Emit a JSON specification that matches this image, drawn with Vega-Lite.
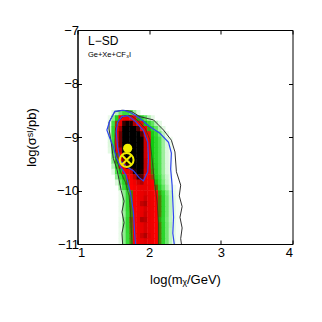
{
"$schema":"https://vega.github.io/schema/vega-lite/v6.json",
"width":215,"height":214,
"autosize":{"type":"none"},
"padding":{"left":77.5,"top":30,"right":29.5,"bottom":78},
"background":"white",
"config":{"view":{"stroke":"black","strokeWidth":1},"axis":{"domainColor":"black","tickColor":"black","labelColor":"black","titleColor":"black","labelFont":"Liberation Sans","titleFont":"Liberation Sans","labelFontSize":13,"titleFontSize":13,"titleFontWeight":"normal","grid":false,"tickSize":-4,"tickWidth":1,"domainWidth":1}},
"datasets":{
"grid":[
{"x":1.5,"y":-8.55,"d":0.08},{"x":1.55,"y":-8.55,"d":0.15},{"x":1.6,"y":-8.55,"d":0.25},{"x":1.65,"y":-8.55,"d":0.32},{"x":1.7,"y":-8.55,"d":0.32},{"x":1.75,"y":-8.55,"d":0.28},{"x":1.8,"y":-8.55,"d":0.18},{"x":1.85,"y":-8.55,"d":0.1},
{"x":1.45,"y":-8.65,"d":0.06},{"x":1.5,"y":-8.65,"d":0.2},{"x":1.55,"y":-8.65,"d":0.4},{"x":1.6,"y":-8.65,"d":0.58},{"x":1.65,"y":-8.65,"d":0.7},{"x":1.7,"y":-8.65,"d":0.72},{"x":1.75,"y":-8.65,"d":0.7},{"x":1.8,"y":-8.65,"d":0.6},{"x":1.85,"y":-8.65,"d":0.46},{"x":1.9,"y":-8.65,"d":0.36},{"x":1.95,"y":-8.65,"d":0.26},{"x":2.0,"y":-8.65,"d":0.16},{"x":2.05,"y":-8.65,"d":0.08},
{"x":1.45,"y":-8.75,"d":0.1},{"x":1.5,"y":-8.75,"d":0.3},{"x":1.55,"y":-8.75,"d":0.52},{"x":1.6,"y":-8.75,"d":0.8},{"x":1.65,"y":-8.75,"d":0.94},{"x":1.7,"y":-8.75,"d":0.97},{"x":1.75,"y":-8.75,"d":0.95},{"x":1.8,"y":-8.75,"d":0.88},{"x":1.85,"y":-8.75,"d":0.7},{"x":1.9,"y":-8.75,"d":0.55},{"x":1.95,"y":-8.75,"d":0.42},{"x":2.0,"y":-8.75,"d":0.34},{"x":2.05,"y":-8.75,"d":0.26},{"x":2.1,"y":-8.75,"d":0.16},{"x":2.15,"y":-8.75,"d":0.08},
{"x":1.45,"y":-8.85,"d":0.12},{"x":1.5,"y":-8.85,"d":0.35},{"x":1.55,"y":-8.85,"d":0.6},{"x":1.6,"y":-8.85,"d":0.9},{"x":1.65,"y":-8.85,"d":1},{"x":1.7,"y":-8.85,"d":1},{"x":1.75,"y":-8.85,"d":1},{"x":1.8,"y":-8.85,"d":1},{"x":1.85,"y":-8.85,"d":0.93},{"x":1.9,"y":-8.85,"d":0.78},{"x":1.95,"y":-8.85,"d":0.6},{"x":2.0,"y":-8.85,"d":0.46},{"x":2.05,"y":-8.85,"d":0.36},{"x":2.1,"y":-8.85,"d":0.26},{"x":2.15,"y":-8.85,"d":0.16},{"x":2.2,"y":-8.85,"d":0.08},
{"x":1.45,"y":-8.95,"d":0.12},{"x":1.5,"y":-8.95,"d":0.35},{"x":1.55,"y":-8.95,"d":0.62},{"x":1.6,"y":-8.95,"d":0.92},{"x":1.65,"y":-8.95,"d":1},{"x":1.7,"y":-8.95,"d":1},{"x":1.75,"y":-8.95,"d":1},{"x":1.8,"y":-8.95,"d":1},{"x":1.85,"y":-8.95,"d":0.98},{"x":1.9,"y":-8.95,"d":0.93},{"x":1.95,"y":-8.95,"d":0.75},{"x":2.0,"y":-8.95,"d":0.55},{"x":2.05,"y":-8.95,"d":0.42},{"x":2.1,"y":-8.95,"d":0.34},{"x":2.15,"y":-8.95,"d":0.24},{"x":2.2,"y":-8.95,"d":0.14},{"x":2.25,"y":-8.95,"d":0.07},
{"x":1.45,"y":-9.05,"d":0.1},{"x":1.5,"y":-9.05,"d":0.33},{"x":1.55,"y":-9.05,"d":0.6},{"x":1.6,"y":-9.05,"d":0.92},{"x":1.65,"y":-9.05,"d":1},{"x":1.7,"y":-9.05,"d":1},{"x":1.75,"y":-9.05,"d":1},{"x":1.8,"y":-9.05,"d":1},{"x":1.85,"y":-9.05,"d":1},{"x":1.9,"y":-9.05,"d":0.97},{"x":1.95,"y":-9.05,"d":0.85},{"x":2.0,"y":-9.05,"d":0.6},{"x":2.05,"y":-9.05,"d":0.44},{"x":2.1,"y":-9.05,"d":0.36},{"x":2.15,"y":-9.05,"d":0.28},{"x":2.2,"y":-9.05,"d":0.18},{"x":2.25,"y":-9.05,"d":0.1},{"x":2.3,"y":-9.05,"d":0.05},
{"x":1.45,"y":-9.15,"d":0.1},{"x":1.5,"y":-9.15,"d":0.33},{"x":1.55,"y":-9.15,"d":0.6},{"x":1.6,"y":-9.15,"d":0.92},{"x":1.65,"y":-9.15,"d":1},{"x":1.7,"y":-9.15,"d":1},{"x":1.75,"y":-9.15,"d":1},{"x":1.8,"y":-9.15,"d":1},{"x":1.85,"y":-9.15,"d":1},{"x":1.9,"y":-9.15,"d":0.97},{"x":1.95,"y":-9.15,"d":0.85},{"x":2.0,"y":-9.15,"d":0.6},{"x":2.05,"y":-9.15,"d":0.44},{"x":2.1,"y":-9.15,"d":0.36},{"x":2.15,"y":-9.15,"d":0.28},{"x":2.2,"y":-9.15,"d":0.18},{"x":2.25,"y":-9.15,"d":0.1},{"x":2.3,"y":-9.15,"d":0.05},
{"x":1.45,"y":-9.25,"d":0.08},{"x":1.5,"y":-9.25,"d":0.3},{"x":1.55,"y":-9.25,"d":0.56},{"x":1.6,"y":-9.25,"d":0.88},{"x":1.65,"y":-9.25,"d":0.98},{"x":1.7,"y":-9.25,"d":1},{"x":1.75,"y":-9.25,"d":1},{"x":1.8,"y":-9.25,"d":1},{"x":1.85,"y":-9.25,"d":1},{"x":1.9,"y":-9.25,"d":0.97},{"x":1.95,"y":-9.25,"d":0.85},{"x":2.0,"y":-9.25,"d":0.6},{"x":2.05,"y":-9.25,"d":0.44},{"x":2.1,"y":-9.25,"d":0.36},{"x":2.15,"y":-9.25,"d":0.28},{"x":2.2,"y":-9.25,"d":0.18},{"x":2.25,"y":-9.25,"d":0.1},{"x":2.3,"y":-9.25,"d":0.05},
{"x":1.5,"y":-9.35,"d":0.25},{"x":1.55,"y":-9.35,"d":0.5},{"x":1.6,"y":-9.35,"d":0.8},{"x":1.65,"y":-9.35,"d":0.95},{"x":1.7,"y":-9.35,"d":1},{"x":1.75,"y":-9.35,"d":1},{"x":1.8,"y":-9.35,"d":1},{"x":1.85,"y":-9.35,"d":1},{"x":1.9,"y":-9.35,"d":0.97},{"x":1.95,"y":-9.35,"d":0.85},{"x":2.0,"y":-9.35,"d":0.6},{"x":2.05,"y":-9.35,"d":0.44},{"x":2.1,"y":-9.35,"d":0.36},{"x":2.15,"y":-9.35,"d":0.28},{"x":2.2,"y":-9.35,"d":0.18},{"x":2.25,"y":-9.35,"d":0.1},{"x":2.3,"y":-9.35,"d":0.05},
{"x":1.5,"y":-9.45,"d":0.22},{"x":1.55,"y":-9.45,"d":0.46},{"x":1.6,"y":-9.45,"d":0.74},{"x":1.65,"y":-9.45,"d":0.92},{"x":1.7,"y":-9.45,"d":0.99},{"x":1.75,"y":-9.45,"d":1},{"x":1.8,"y":-9.45,"d":1},{"x":1.85,"y":-9.45,"d":1},{"x":1.9,"y":-9.45,"d":0.97},{"x":1.95,"y":-9.45,"d":0.86},{"x":2.0,"y":-9.45,"d":0.61},{"x":2.05,"y":-9.45,"d":0.45},{"x":2.1,"y":-9.45,"d":0.36},{"x":2.15,"y":-9.45,"d":0.28},{"x":2.2,"y":-9.45,"d":0.18},{"x":2.25,"y":-9.45,"d":0.1},{"x":2.3,"y":-9.45,"d":0.05},
{"x":1.5,"y":-9.55,"d":0.15},{"x":1.55,"y":-9.55,"d":0.38},{"x":1.6,"y":-9.55,"d":0.6},{"x":1.65,"y":-9.55,"d":0.8},{"x":1.7,"y":-9.55,"d":0.94},{"x":1.75,"y":-9.55,"d":0.98},{"x":1.8,"y":-9.55,"d":1},{"x":1.85,"y":-9.55,"d":1},{"x":1.9,"y":-9.55,"d":0.97},{"x":1.95,"y":-9.55,"d":0.86},{"x":2.0,"y":-9.55,"d":0.62},{"x":2.05,"y":-9.55,"d":0.46},{"x":2.1,"y":-9.55,"d":0.37},{"x":2.15,"y":-9.55,"d":0.28},{"x":2.2,"y":-9.55,"d":0.18},{"x":2.25,"y":-9.55,"d":0.1},{"x":2.3,"y":-9.55,"d":0.05},
{"x":1.5,"y":-9.65,"d":0.08},{"x":1.55,"y":-9.65,"d":0.28},{"x":1.6,"y":-9.65,"d":0.42},{"x":1.65,"y":-9.65,"d":0.58},{"x":1.7,"y":-9.65,"d":0.72},{"x":1.75,"y":-9.65,"d":0.85},{"x":1.8,"y":-9.65,"d":0.95},{"x":1.85,"y":-9.65,"d":0.98},{"x":1.9,"y":-9.65,"d":0.96},{"x":1.95,"y":-9.65,"d":0.85},{"x":2.0,"y":-9.65,"d":0.64},{"x":2.05,"y":-9.65,"d":0.48},{"x":2.1,"y":-9.65,"d":0.38},{"x":2.15,"y":-9.65,"d":0.28},{"x":2.2,"y":-9.65,"d":0.18},{"x":2.25,"y":-9.65,"d":0.1},{"x":2.3,"y":-9.65,"d":0.05},
{"x":1.55,"y":-9.75,"d":0.2},{"x":1.6,"y":-9.75,"d":0.32},{"x":1.65,"y":-9.75,"d":0.45},{"x":1.7,"y":-9.75,"d":0.58},{"x":1.75,"y":-9.75,"d":0.7},{"x":1.8,"y":-9.75,"d":0.86},{"x":1.85,"y":-9.75,"d":0.94},{"x":1.9,"y":-9.75,"d":0.93},{"x":1.95,"y":-9.75,"d":0.82},{"x":2.0,"y":-9.75,"d":0.66},{"x":2.05,"y":-9.75,"d":0.52},{"x":2.1,"y":-9.75,"d":0.4},{"x":2.15,"y":-9.75,"d":0.3},{"x":2.2,"y":-9.75,"d":0.2},{"x":2.25,"y":-9.75,"d":0.12},{"x":2.3,"y":-9.75,"d":0.06},
{"x":1.55,"y":-9.85,"d":0.1},{"x":1.6,"y":-9.85,"d":0.25},{"x":1.65,"y":-9.85,"d":0.38},{"x":1.7,"y":-9.85,"d":0.5},{"x":1.75,"y":-9.85,"d":0.62},{"x":1.8,"y":-9.85,"d":0.74},{"x":1.85,"y":-9.85,"d":0.85},{"x":1.9,"y":-9.85,"d":0.88},{"x":1.95,"y":-9.85,"d":0.82},{"x":2.0,"y":-9.85,"d":0.7},{"x":2.05,"y":-9.85,"d":0.58},{"x":2.1,"y":-9.85,"d":0.45},{"x":2.15,"y":-9.85,"d":0.33},{"x":2.2,"y":-9.85,"d":0.22},{"x":2.25,"y":-9.85,"d":0.13},{"x":2.3,"y":-9.85,"d":0.07},
{"x":1.6,"y":-9.95,"d":0.18},{"x":1.65,"y":-9.95,"d":0.32},{"x":1.7,"y":-9.95,"d":0.45},{"x":1.75,"y":-9.95,"d":0.56},{"x":1.8,"y":-9.95,"d":0.66},{"x":1.85,"y":-9.95,"d":0.76},{"x":1.9,"y":-9.95,"d":0.82},{"x":1.95,"y":-9.95,"d":0.82},{"x":2.0,"y":-9.95,"d":0.74},{"x":2.05,"y":-9.95,"d":0.62},{"x":2.1,"y":-9.95,"d":0.5},{"x":2.15,"y":-9.95,"d":0.38},{"x":2.2,"y":-9.95,"d":0.26},{"x":2.25,"y":-9.95,"d":0.16},{"x":2.3,"y":-9.95,"d":0.09},{"x":2.35,"y":-9.95,"d":0.04},
{"x":1.6,"y":-10.05,"d":0.06},{"x":1.65,"y":-10.05,"d":0.2},{"x":1.7,"y":-10.05,"d":0.34},{"x":1.75,"y":-10.05,"d":0.48},{"x":1.8,"y":-10.05,"d":0.62},{"x":1.85,"y":-10.05,"d":0.72},{"x":1.9,"y":-10.05,"d":0.8},{"x":1.95,"y":-10.05,"d":0.83},{"x":2.0,"y":-10.05,"d":0.79},{"x":2.05,"y":-10.05,"d":0.7},{"x":2.1,"y":-10.05,"d":0.58},{"x":2.15,"y":-10.05,"d":0.46},{"x":2.2,"y":-10.05,"d":0.34},{"x":2.25,"y":-10.05,"d":0.22},{"x":2.3,"y":-10.05,"d":0.13},{"x":2.35,"y":-10.05,"d":0.07},{"x":2.4,"y":-10.05,"d":0.03},
{"x":1.6,"y":-10.15,"d":0.06},{"x":1.65,"y":-10.15,"d":0.2},{"x":1.7,"y":-10.15,"d":0.34},{"x":1.75,"y":-10.15,"d":0.48},{"x":1.8,"y":-10.15,"d":0.62},{"x":1.85,"y":-10.15,"d":0.73},{"x":1.9,"y":-10.15,"d":0.82},{"x":1.95,"y":-10.15,"d":0.85},{"x":2.0,"y":-10.15,"d":0.8},{"x":2.05,"y":-10.15,"d":0.72},{"x":2.1,"y":-10.15,"d":0.6},{"x":2.15,"y":-10.15,"d":0.48},{"x":2.2,"y":-10.15,"d":0.36},{"x":2.25,"y":-10.15,"d":0.24},{"x":2.3,"y":-10.15,"d":0.14},{"x":2.35,"y":-10.15,"d":0.08},{"x":2.4,"y":-10.15,"d":0.03},
{"x":1.6,"y":-10.25,"d":0.06},{"x":1.65,"y":-10.25,"d":0.2},{"x":1.7,"y":-10.25,"d":0.34},{"x":1.75,"y":-10.25,"d":0.48},{"x":1.8,"y":-10.25,"d":0.64},{"x":1.85,"y":-10.25,"d":0.76},{"x":1.9,"y":-10.25,"d":0.86},{"x":1.95,"y":-10.25,"d":0.88},{"x":2.0,"y":-10.25,"d":0.82},{"x":2.05,"y":-10.25,"d":0.72},{"x":2.1,"y":-10.25,"d":0.6},{"x":2.15,"y":-10.25,"d":0.48},{"x":2.2,"y":-10.25,"d":0.36},{"x":2.25,"y":-10.25,"d":0.24},{"x":2.3,"y":-10.25,"d":0.14},{"x":2.35,"y":-10.25,"d":0.08},{"x":2.4,"y":-10.25,"d":0.03},
{"x":1.6,"y":-10.35,"d":0.06},{"x":1.65,"y":-10.35,"d":0.2},{"x":1.7,"y":-10.35,"d":0.34},{"x":1.75,"y":-10.35,"d":0.48},{"x":1.8,"y":-10.35,"d":0.62},{"x":1.85,"y":-10.35,"d":0.72},{"x":1.9,"y":-10.35,"d":0.8},{"x":1.95,"y":-10.35,"d":0.84},{"x":2.0,"y":-10.35,"d":0.8},{"x":2.05,"y":-10.35,"d":0.72},{"x":2.1,"y":-10.35,"d":0.6},{"x":2.15,"y":-10.35,"d":0.48},{"x":2.2,"y":-10.35,"d":0.36},{"x":2.25,"y":-10.35,"d":0.24},{"x":2.3,"y":-10.35,"d":0.14},{"x":2.35,"y":-10.35,"d":0.08},{"x":2.4,"y":-10.35,"d":0.03},
{"x":1.6,"y":-10.45,"d":0.05},{"x":1.65,"y":-10.45,"d":0.18},{"x":1.7,"y":-10.45,"d":0.33},{"x":1.75,"y":-10.45,"d":0.47},{"x":1.8,"y":-10.45,"d":0.62},{"x":1.85,"y":-10.45,"d":0.74},{"x":1.9,"y":-10.45,"d":0.82},{"x":1.95,"y":-10.45,"d":0.85},{"x":2.0,"y":-10.45,"d":0.81},{"x":2.05,"y":-10.45,"d":0.72},{"x":2.1,"y":-10.45,"d":0.6},{"x":2.15,"y":-10.45,"d":0.48},{"x":2.2,"y":-10.45,"d":0.36},{"x":2.25,"y":-10.45,"d":0.24},{"x":2.3,"y":-10.45,"d":0.14},{"x":2.35,"y":-10.45,"d":0.08},{"x":2.4,"y":-10.45,"d":0.03},
{"x":1.6,"y":-10.55,"d":0.06},{"x":1.65,"y":-10.55,"d":0.2},{"x":1.7,"y":-10.55,"d":0.35},{"x":1.75,"y":-10.55,"d":0.5},{"x":1.8,"y":-10.55,"d":0.66},{"x":1.85,"y":-10.55,"d":0.78},{"x":1.9,"y":-10.55,"d":0.88},{"x":1.95,"y":-10.55,"d":0.87},{"x":2.0,"y":-10.55,"d":0.8},{"x":2.05,"y":-10.55,"d":0.7},{"x":2.1,"y":-10.55,"d":0.58},{"x":2.15,"y":-10.55,"d":0.46},{"x":2.2,"y":-10.55,"d":0.35},{"x":2.25,"y":-10.55,"d":0.23},{"x":2.3,"y":-10.55,"d":0.14},{"x":2.35,"y":-10.55,"d":0.08},{"x":2.4,"y":-10.55,"d":0.03},
{"x":1.6,"y":-10.65,"d":0.07},{"x":1.65,"y":-10.65,"d":0.21},{"x":1.7,"y":-10.65,"d":0.35},{"x":1.75,"y":-10.65,"d":0.49},{"x":1.8,"y":-10.65,"d":0.63},{"x":1.85,"y":-10.65,"d":0.73},{"x":1.9,"y":-10.65,"d":0.81},{"x":1.95,"y":-10.65,"d":0.84},{"x":2.0,"y":-10.65,"d":0.8},{"x":2.05,"y":-10.65,"d":0.72},{"x":2.1,"y":-10.65,"d":0.6},{"x":2.15,"y":-10.65,"d":0.48},{"x":2.2,"y":-10.65,"d":0.36},{"x":2.25,"y":-10.65,"d":0.24},{"x":2.3,"y":-10.65,"d":0.15},{"x":2.35,"y":-10.65,"d":0.08},{"x":2.4,"y":-10.65,"d":0.03},
{"x":1.6,"y":-10.75,"d":0.06},{"x":1.65,"y":-10.75,"d":0.2},{"x":1.7,"y":-10.75,"d":0.34},{"x":1.75,"y":-10.75,"d":0.48},{"x":1.8,"y":-10.75,"d":0.62},{"x":1.85,"y":-10.75,"d":0.72},{"x":1.9,"y":-10.75,"d":0.8},{"x":1.95,"y":-10.75,"d":0.84},{"x":2.0,"y":-10.75,"d":0.81},{"x":2.05,"y":-10.75,"d":0.72},{"x":2.1,"y":-10.75,"d":0.6},{"x":2.15,"y":-10.75,"d":0.48},{"x":2.2,"y":-10.75,"d":0.36},{"x":2.25,"y":-10.75,"d":0.24},{"x":2.3,"y":-10.75,"d":0.14},{"x":2.35,"y":-10.75,"d":0.08},{"x":2.4,"y":-10.75,"d":0.03},
{"x":1.6,"y":-10.85,"d":0.06},{"x":1.65,"y":-10.85,"d":0.2},{"x":1.7,"y":-10.85,"d":0.33},{"x":1.75,"y":-10.85,"d":0.47},{"x":1.8,"y":-10.85,"d":0.62},{"x":1.85,"y":-10.85,"d":0.75},{"x":1.9,"y":-10.85,"d":0.85},{"x":1.95,"y":-10.85,"d":0.88},{"x":2.0,"y":-10.85,"d":0.83},{"x":2.05,"y":-10.85,"d":0.72},{"x":2.1,"y":-10.85,"d":0.6},{"x":2.15,"y":-10.85,"d":0.48},{"x":2.2,"y":-10.85,"d":0.36},{"x":2.25,"y":-10.85,"d":0.24},{"x":2.3,"y":-10.85,"d":0.14},{"x":2.35,"y":-10.85,"d":0.08},{"x":2.4,"y":-10.85,"d":0.03},
{"x":1.6,"y":-10.95,"d":0.06},{"x":1.65,"y":-10.95,"d":0.2},{"x":1.7,"y":-10.95,"d":0.33},{"x":1.75,"y":-10.95,"d":0.47},{"x":1.8,"y":-10.95,"d":0.61},{"x":1.85,"y":-10.95,"d":0.72},{"x":1.9,"y":-10.95,"d":0.8},{"x":1.95,"y":-10.95,"d":0.83},{"x":2.0,"y":-10.95,"d":0.8},{"x":2.05,"y":-10.95,"d":0.72},{"x":2.1,"y":-10.95,"d":0.6},{"x":2.15,"y":-10.95,"d":0.48},{"x":2.2,"y":-10.95,"d":0.36},{"x":2.25,"y":-10.95,"d":0.24},{"x":2.3,"y":-10.95,"d":0.14},{"x":2.35,"y":-10.95,"d":0.08},{"x":2.4,"y":-10.95,"d":0.03}
],
"contours":[
{"c":"k1","o":1,"x":1.63,"y":-11},{"c":"k1","o":2,"x":1.62,"y":-10.8},{"c":"k1","o":3,"x":1.65,"y":-10.6},{"c":"k1","o":4,"x":1.62,"y":-10.4},{"c":"k1","o":5,"x":1.65,"y":-10.2},{"c":"k1","o":6,"x":1.61,"y":-10.0},{"c":"k1","o":7,"x":1.58,"y":-9.8},{"c":"k1","o":8,"x":1.55,"y":-9.6},{"c":"k1","o":9,"x":1.5,"y":-9.4},{"c":"k1","o":10,"x":1.47,"y":-9.1},{"c":"k1","o":11,"x":1.44,"y":-8.85},{"c":"k1","o":12,"x":1.44,"y":-8.72},{"c":"k1","o":13,"x":1.52,"y":-8.53},{"c":"k1","o":14,"x":1.62,"y":-8.5},{"c":"k1","o":15,"x":1.75,"y":-8.52},{"c":"k1","o":16,"x":1.87,"y":-8.62},{"c":"k1","o":17,"x":2.06,"y":-8.68},{"c":"k1","o":18,"x":2.2,"y":-8.87},{"c":"k1","o":19,"x":2.31,"y":-9.06},{"c":"k1","o":20,"x":2.36,"y":-9.28},{"c":"k1","o":21,"x":2.38,"y":-9.65},{"c":"k1","o":22,"x":2.44,"y":-9.9},{"c":"k1","o":23,"x":2.42,"y":-10.1},{"c":"k1","o":24,"x":2.46,"y":-10.3},{"c":"k1","o":25,"x":2.43,"y":-10.5},{"c":"k1","o":26,"x":2.46,"y":-10.7},{"c":"k1","o":27,"x":2.44,"y":-10.9},{"c":"k1","o":28,"x":2.45,"y":-11},
{"c":"k2","o":1,"x":1.76,"y":-11},{"c":"k2","o":2,"x":1.75,"y":-10.7},{"c":"k2","o":3,"x":1.74,"y":-10.4},{"c":"k2","o":4,"x":1.72,"y":-10.1},{"c":"k2","o":5,"x":1.67,"y":-9.85},{"c":"k2","o":6,"x":1.6,"y":-9.65},{"c":"k2","o":7,"x":1.54,"y":-9.4},{"c":"k2","o":8,"x":1.52,"y":-9.1},{"c":"k2","o":9,"x":1.53,"y":-8.85},{"c":"k2","o":10,"x":1.58,"y":-8.68},{"c":"k2","o":11,"x":1.66,"y":-8.6},{"c":"k2","o":12,"x":1.75,"y":-8.6},{"c":"k2","o":13,"x":1.85,"y":-8.7},{"c":"k2","o":14,"x":1.95,"y":-8.85},{"c":"k2","o":15,"x":2.01,"y":-9.05},{"c":"k2","o":16,"x":2.04,"y":-9.4},{"c":"k2","o":17,"x":2.07,"y":-9.8},{"c":"k2","o":18,"x":2.11,"y":-10.2},{"c":"k2","o":19,"x":2.13,"y":-10.6},{"c":"k2","o":20,"x":2.13,"y":-11},
{"c":"b1","o":1,"x":1.81,"y":-11},{"c":"b1","o":2,"x":1.8,"y":-10.85},{"c":"b1","o":3,"x":1.78,"y":-10.4},{"c":"b1","o":4,"x":1.74,"y":-10.05},{"c":"b1","o":5,"x":1.68,"y":-9.72},{"c":"b1","o":6,"x":1.6,"y":-9.55},{"c":"b1","o":7,"x":1.54,"y":-9.38},{"c":"b1","o":8,"x":1.5,"y":-9.18},{"c":"b1","o":9,"x":1.45,"y":-9.02},{"c":"b1","o":10,"x":1.41,"y":-8.87},{"c":"b1","o":11,"x":1.45,"y":-8.7},{"c":"b1","o":12,"x":1.52,"y":-8.52},{"c":"b1","o":13,"x":1.65,"y":-8.5},{"c":"b1","o":14,"x":1.75,"y":-8.55},{"c":"b1","o":15,"x":1.87,"y":-8.65},{"c":"b1","o":16,"x":2.0,"y":-8.8},{"c":"b1","o":17,"x":2.15,"y":-8.93},{"c":"b1","o":18,"x":2.27,"y":-9.1},{"c":"b1","o":19,"x":2.31,"y":-9.3},{"c":"b1","o":20,"x":2.3,"y":-9.6},{"c":"b1","o":21,"x":2.32,"y":-9.9},{"c":"b1","o":22,"x":2.33,"y":-10.2},{"c":"b1","o":23,"x":2.34,"y":-10.5},{"c":"b1","o":24,"x":2.33,"y":-10.8},{"c":"b1","o":25,"x":2.35,"y":-11},
{"c":"b2","o":1,"x":1.56,"y":-8.72},{"c":"b2","o":2,"x":1.62,"y":-8.62},{"c":"b2","o":3,"x":1.7,"y":-8.6},{"c":"b2","o":4,"x":1.8,"y":-8.7},{"c":"b2","o":5,"x":1.92,"y":-8.88},{"c":"b2","o":6,"x":1.98,"y":-9.1},{"c":"b2","o":7,"x":1.99,"y":-9.4},{"c":"b2","o":8,"x":1.98,"y":-9.65},{"c":"b2","o":9,"x":1.92,"y":-9.82},{"c":"b2","o":10,"x":1.86,"y":-9.76},{"c":"b2","o":11,"x":1.78,"y":-9.63},{"c":"b2","o":12,"x":1.68,"y":-9.55},{"c":"b2","o":13,"x":1.6,"y":-9.45},{"c":"b2","o":14,"x":1.56,"y":-9.2},{"c":"b2","o":15,"x":1.54,"y":-8.9},{"c":"b2","o":16,"x":1.56,"y":-8.72}
],
"marks":[{"k":"dot","x":1.70,"y":-9.21},{"k":"cross","x":1.686,"y":-9.43}]
},
"layer":[
{"data":{"name":"grid"},"mark":{"type":"rect","width":4,"height":6,"clip":true},
 "encoding":{
  "x":{"field":"x","type":"quantitative","scale":{"domain":[1,4],"nice":false,"zero":false},"axis":{"values":[1,2,3,4],"title":"log(mᵪ/GeV)","labelPadding":6,"titlePadding":14}},
  "y":{"field":"y","type":"quantitative","scale":{"domain":[-11,-7],"nice":false,"zero":false},"axis":{"values":[-11,-10,-9,-8,-7],"title":"log(σˢᴵ/pb)","labelPadding":3,"titlePadding":18}},
  "color":{"field":"d","type":"quantitative","scale":{"type":"linear","interpolate":"rgb","domain":[0,0.1,0.3,0.44,0.5,0.56,0.82,0.9,0.95,0.98],"range":["#ffffff","#dcf8dc","#40e040","#10c810","#6a5a00","#ff0000","#e80000","#a00000","#200000","#000000"],"clamp":true},"legend":null}}},
{"data":{"name":"contours"},"transform":[{"filter":"datum.c=='k1'"}],"mark":{"type":"line","color":"#303030","strokeWidth":1,"clip":true},
 "encoding":{"x":{"field":"x","type":"quantitative","axis":{"orient":"top","values":[1,2,3,4],"labels":false,"title":null,"domain":false}},"y":{"field":"y","type":"quantitative","axis":{"orient":"right","values":[-11,-10,-9,-8,-7],"labels":false,"title":null,"domain":false}},"order":{"field":"o"}}},
{"data":{"name":"contours"},"transform":[{"filter":"datum.c=='k2'"}],"mark":{"type":"line","color":"#2a3a20","strokeWidth":0.9,"opacity":0.8,"clip":true},
 "encoding":{"x":{"field":"x","type":"quantitative","axis":null},"y":{"field":"y","type":"quantitative","axis":null},"order":{"field":"o"}}},
{"data":{"name":"contours"},"transform":[{"filter":"datum.c=='b1' || datum.c=='b2'"}],"mark":{"type":"line","color":"#2f45f0","strokeWidth":1.2,"clip":true},
 "encoding":{"x":{"field":"x","type":"quantitative","axis":null},"y":{"field":"y","type":"quantitative","axis":null},"detail":{"field":"c"},"order":{"field":"o"}}},
{"data":{"name":"marks"},"transform":[{"filter":"datum.k=='dot'"}],"mark":{"type":"point","shape":"circle","filled":true,"color":"#f2ee00","size":85,"opacity":1},
 "encoding":{"x":{"field":"x","type":"quantitative","axis":null},"y":{"field":"y","type":"quantitative","axis":null}}},
{"data":{"name":"marks"},"transform":[{"filter":"datum.k=='cross'"}],"mark":{"type":"point","shape":"circle","filled":false,"color":"#f2ee00","strokeWidth":2,"size":190,"opacity":1},
 "encoding":{"x":{"field":"x","type":"quantitative","axis":null},"y":{"field":"y","type":"quantitative","axis":null}}},
{"data":{"name":"marks"},"transform":[{"filter":"datum.k=='cross'"}],"mark":{"type":"point","shape":"M-0.68,-0.68L0.68,0.68M-0.68,0.68L0.68,-0.68","filled":false,"color":"#f2ee00","strokeWidth":2,"size":190,"opacity":1},
 "encoding":{"x":{"field":"x","type":"quantitative","axis":null},"y":{"field":"y","type":"quantitative","axis":null}}},
{"data":{"values":[{"x":1.146,"y":-7.28,"t":"L−SD"}]},"mark":{"type":"text","align":"left","baseline":"alphabetic","font":"Liberation Sans","fontSize":12,"color":"black"},
 "encoding":{"x":{"field":"x","type":"quantitative","axis":null},"y":{"field":"y","type":"quantitative","axis":null},"text":{"field":"t"}}},
{"data":{"values":[{"x":1.146,"y":-7.5,"t":"Ge+Xe+CF₃I"}]},"mark":{"type":"text","align":"left","baseline":"alphabetic","font":"Liberation Sans","fontSize":7.5,"color":"black"},
 "encoding":{"x":{"field":"x","type":"quantitative","axis":null},"y":{"field":"y","type":"quantitative","axis":null},"text":{"field":"t"}}}
],
"resolve":{"axis":{"x":"independent","y":"independent"}}
}
